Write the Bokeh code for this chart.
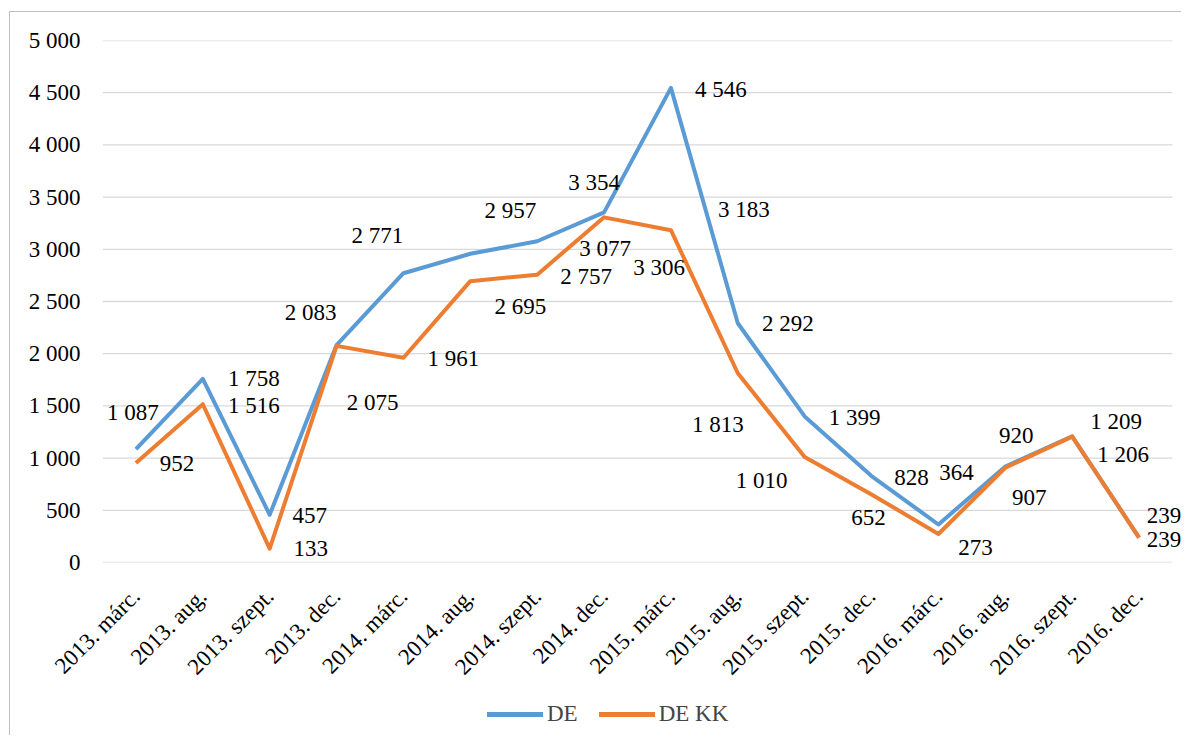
import math
from bokeh.plotting import figure
from bokeh.layouts import column
from bokeh.models import (Range1d, FixedTicker, LabelSet,
                          ColumnDataSource, Legend, LegendItem)
from bokeh.core.properties import value
from bokeh.embed import file_html
from bokeh.resources import INLINE

categories = ["2013. márc.", "2013. aug.", "2013. szept.", "2013. dec.",
              "2014. márc.", "2014. aug.", "2014. szept.", "2014. dec.",
              "2015. márc.", "2015. aug.", "2015. szept.", "2015. dec.",
              "2016. márc.", "2016. aug.", "2016. szept.", "2016. dec."]
de = [1087, 1758, 457, 2083, 2771, 2957, 3077, 3354, 4546, 2292, 1399, 828, 364, 920, 1209, 239]
de_kk = [952, 1516, 133, 2075, 1961, 2695, 2757, 3306, 3183, 1813, 1010, 652, 273, 907, 1206, 239]
y_ticks = [0, 500, 1000, 1500, 2000, 2500, 3000, 3500, 4000, 4500, 5000]
series_names = ["DE", "DE KK"]

# data-label placement (pixels, right / down from the point)
de_dx = [-3, 51, 40, -26, -26, 40, 68, -10, 50, 50, 50, 40, 18, 11, 44, 25]
de_dy = [-37, 0, 1, -33, -38, -43, 7, -30, 2, 0, 1, 1, -52, -31, -15, -22]
kk_dx = [41, 51, 41, 36, 50, 50, 49, 55, 73, -20, -43, -3, 37, 24, 51, 25]
kk_dy = [0, 1, 0, 57, 1, 25, 2, 50, -21, 51, 23, 23, 14, 30, 18, 2]

BLUE = "#5B9BD5"
ORANGE = "#ED7D31"
FONT = "Liberation Serif"
FS = "23px"
EDGE = "1px solid #BFBFBF"

n = len(categories)
xs = [i + 0.5 for i in range(n)]          # category centres on the band scale
BAND_PX = 66.875                           # width of one category band
FRAME_W = 1080                             # frame width in px


def fmt(v):
    return f"{v:,}".replace(",", " ")


p = figure(x_range=Range1d(0, FRAME_W / BAND_PX),
           y_range=Range1d(0, 5000),
           width=1172, height=688, output_backend="svg", toolbar_location=None,
           min_border_left=92, min_border_right=0, min_border_top=28,
           min_border_bottom=138,
           styles={"border-left": EDGE, "border-top": EDGE})
p.outline_line_color = None
p.background_fill_color = "white"
p.border_fill_color = "white"

p.xgrid.grid_line_color = None
p.ygrid.grid_line_color = None
# horizontal gridlines spanning the category bands only
p.segment(x0=[0] * len(y_ticks), x1=[n] * len(y_ticks), y0=y_ticks, y1=y_ticks,
          line_color="#D9D9D9", line_width=1.3)

p.yaxis.ticker = FixedTicker(ticks=y_ticks)
p.yaxis.major_label_overrides = {t: fmt(t) for t in y_ticks}
p.xaxis.ticker = FixedTicker(ticks=xs)
p.xaxis.major_label_overrides = {x: c for x, c in zip(xs, categories)}
for ax in (p.xaxis, p.yaxis):
    ax.axis_line_color = None
    ax.major_tick_line_color = None
    ax.minor_tick_line_color = None
    ax.major_tick_out = 0
    ax.major_tick_in = 0
    ax.minor_tick_out = 0
    ax.major_label_text_font = FONT
    ax.major_label_text_font_size = FS
    ax.major_label_text_color = "black"
p.yaxis.major_label_standoff = 22
p.xaxis.major_label_orientation = math.pi / 4
p.xaxis.major_label_standoff = 30

p.line(xs, de, line_color=BLUE, line_width=4, line_join="round")
p.line(xs, de_kk, line_color=ORANGE, line_width=4, line_join="round")

for vals, dx, dy in ((de, de_dx, de_dy), (de_kk, kk_dx, kk_dy)):
    src = ColumnDataSource(dict(x=xs, y=vals, t=[fmt(v) for v in vals],
                                dx=dx, dy=[-d for d in dy]))
    p.add_layout(LabelSet(x="x", y="y", text="t", source=src,
                          x_offset="dx", y_offset="dy",
                          text_align="center", text_baseline="middle",
                          text_font=value(FONT), text_font_size=value(FS),
                          text_color="black"))

# legend strip below the chart
lg = figure(x_range=Range1d(0, 1), y_range=Range1d(0, 1), width=1172, height=36,
            output_backend="svg", toolbar_location=None,
            x_axis_type=None, y_axis_type=None,
            min_border_left=0, min_border_right=0, min_border_top=0, min_border_bottom=0,
            styles={"border-left": EDGE})
lg.outline_line_color = None
lg.xgrid.grid_line_color = None
lg.ygrid.grid_line_color = None
# legend-only renderers (their single point lies outside the visible range)
l1 = lg.line(x=[-1], y=[-1], line_color=BLUE, line_width=5, line_cap="round")
l2 = lg.line(x=[-1], y=[-1], line_color=ORANGE, line_width=5, line_cap="round")
legend = Legend(items=[LegendItem(label=series_names[0], renderers=[l1]),
                       LegendItem(label=series_names[1], renderers=[l2])],
                orientation="horizontal", location=(385, 8))
legend.label_text_font = FONT
legend.label_text_font_size = FS
legend.glyph_width = 56
legend.glyph_height = 20
legend.label_standoff = 4
legend.spacing = 21
legend.padding = 0
legend.margin = 0
legend.border_line_color = None
legend.background_fill_alpha = 0
lg.add_layout(legend, "center")

layout = column(p, lg, spacing=0, styles={"margin-left": "9px", "margin-top": "11px"})

open("out.html", "w").write(file_html(layout, INLINE))
